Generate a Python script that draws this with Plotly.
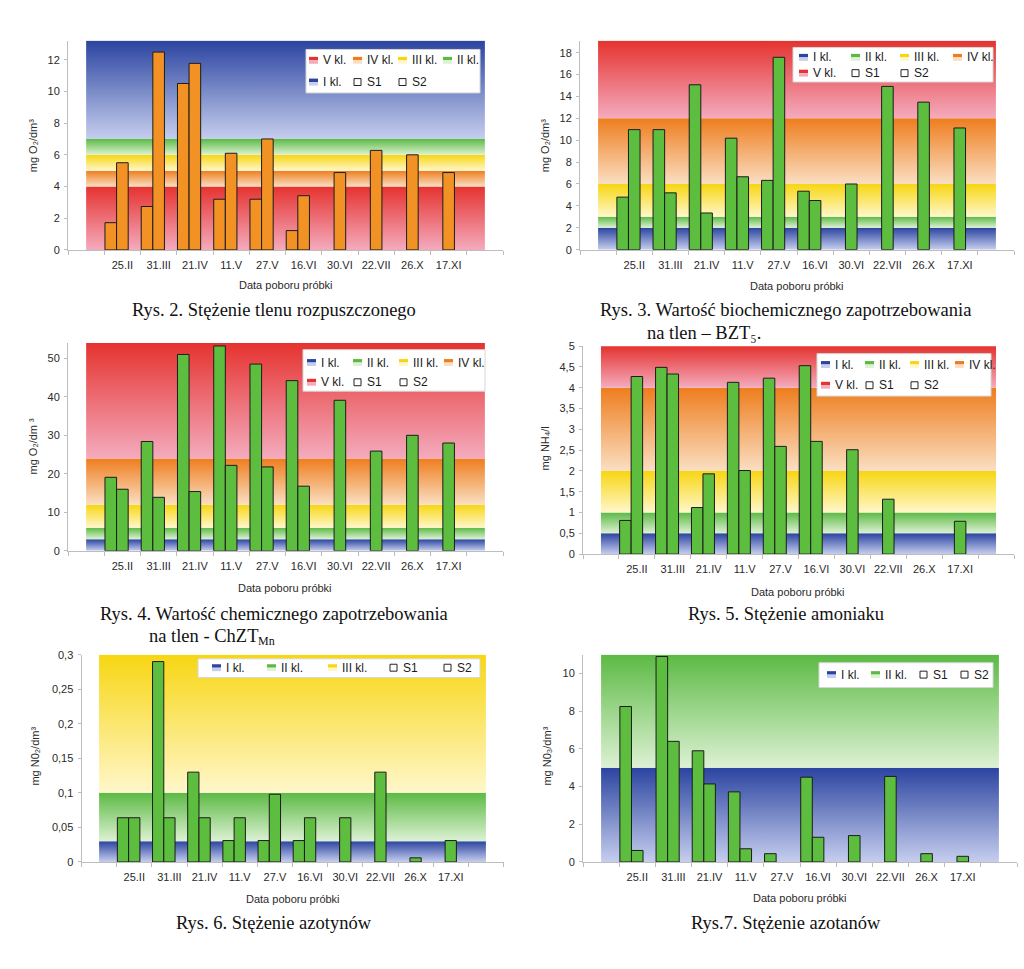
import plotly.graph_objects as go

# ---------------- data ----------------
dates = ['25.II', '31.III', '21.IV', '11.V', '27.V', '16.VI', '30.VI', '22.VII', '26.X', '17.XI']

# Rys. 2 - dissolved oxygen
o2_s1 = [1.72, 2.74, 10.5, 3.2, 3.2, 1.22, None, None, None, None]
o2_s2 = [5.5, 12.48, 11.77, 6.1, 7.0, 3.42, 4.88, 6.28, 6.0, 4.88]
o2_classes = ['V kl.', 'IV kl.', 'III kl.', 'II kl.', 'I kl.']
o2_limits = [0, 4, 5, 6, 7, 13.2]

# Rys. 3 - BZT5
bzt_s1 = [4.8, 10.97, 15.07, 10.19, 6.33, 5.34, None, None, None, None]
bzt_s2 = [10.97, 5.19, 3.35, 6.66, 17.58, 4.49, 6.0, 14.92, 13.48, 11.12]
bzt_classes = ['I kl.', 'II kl.', 'III kl.', 'IV kl.', 'V kl.']
bzt_limits = [0, 2, 3, 6, 12, 19.1]

# Rys. 4 - ChZT Mn
chzt_s1 = [19.1, 28.4, 51.0, 53.2, 48.5, 44.2, None, None, None, None]
chzt_s2 = [16.0, 13.9, 15.4, 22.2, 21.8, 16.8, 39.1, 25.9, 30.0, 28.0]
chzt_classes = ['I kl.', 'II kl.', 'III kl.', 'IV kl.', 'V kl.']
chzt_limits = [0, 3, 6, 12, 24, 54]

# Rys. 5 - ammonia
nh4_s1 = [0.81, 4.49, 1.12, 4.13, 4.23, 4.53, None, None, None, None]
nh4_s2 = [4.27, 4.33, 1.93, 2.01, 2.59, 2.71, 2.51, 1.32, None, 0.79]
nh4_classes = ['I kl.', 'II kl.', 'III kl.', 'IV kl.', 'V kl.']
nh4_limits = [0, 0.5, 1, 2, 4, 5]

# Rys. 6 - nitrites
no2_s1 = [0.064, 0.29, 0.13, 0.031, 0.031, 0.031, None, None, None, None]
no2_s2 = [0.064, 0.064, 0.064, 0.064, 0.098, 0.064, 0.064, 0.13, 0.006, 0.031]
no2_classes = ['I kl.', 'II kl.', 'III kl.']
no2_limits = [0, 0.03, 0.1, 0.3]

# Rys. 7 - nitrates
no3_s1 = [8.25, 10.9, 5.9, 3.72, 0.44, 4.5, None, None, None, None]
no3_s2 = [0.61, 6.4, 4.14, 0.70, None, 1.31, 1.40, 4.54, 0.44, 0.30]
no3_classes = ['I kl.', 'II kl.']
no3_limits = [0, 5, 11]

series_names = ['S1', 'S2']

# ---------------- styles ----------------
W, H = 1024, 969
SANS = 'Liberation Sans, Arial, sans-serif'
SERIF = 'Liberation Serif, Times New Roman, serif'
AXIS_GRAY = '#BDBDBD'
TEXT = '#2a2a2a'
CLASS_COLORS = {  # (top colour, bottom colour)
    'I kl.': ('#2B44A0', '#C6CEEE'),
    'II kl.': ('#5CBA44', '#DDF1D4'),
    'III kl.': ('#F7D612', '#FFF7CB'),
    'IV kl.': ('#EE7D1E', '#FADFC2'),
    'V kl.': ('#E5332F', '#F4ABBE'),
}
ORANGE_BAR = '#F29225'
GREEN_BAR = '#5DBD3E'
BAR_W = 0.32
CAP_SIZE = 18.5


def px(x):
    return x / W


def py(y):
    return 1 - y / H


# caption items: (text, x, y, anchor, font size)
panels = [
    dict(s1=o2_s1, s2=o2_s2, classes=o2_classes, limits=o2_limits, dtick=2, bar=ORANGE_BAR,
         dom=(68, 503, 247, 35), ytitle='mg O₂/dm³', ytpos=(33, 141),
         xtpos=(286, 283), caption=[('Rys. 2. Stężenie tlenu rozpuszczonego', 274, 308, 'center', CAP_SIZE)],
         leg=dict(box=(306, 44, 480, 88), cols=[309, 353, 398, 443], rows=[55, 77],
                  items=['V kl.', 'IV kl.', 'III kl.', 'II kl.', 'I kl.', 'S1', 'S2'])),
    dict(s1=bzt_s1, s2=bzt_s2, classes=bzt_classes, limits=bzt_limits, dtick=2, bar=GREEN_BAR,
         dom=(580, 1014, 246.7, 35), ytitle='mg O₂/dm³', ytpos=(545, 141),
         xtpos=(797, 284),
         caption=[('Rys. 3. Wartość biochemicznego zapotrzebowania', 785, 308, 'center', CAP_SIZE),
                  ('na tlen – BZT₅.', 645, 331, 'left', CAP_SIZE)],
         leg=dict(box=(793, 42, 993, 77), cols=[799, 851, 900, 953], rows=[52, 68],
                  items=['I kl.', 'II kl.', 'III kl.', 'IV kl.', 'V kl.', 'S1', 'S2'])),
    dict(s1=chzt_s1, s2=chzt_s2, classes=chzt_classes, limits=chzt_limits, dtick=10, bar=GREEN_BAR,
         dom=(68, 503, 551.7, 341), ytitle='mg O₂/dm ³', ytpos=(33, 446),
         xtpos=(285, 589),
         caption=[('Rys. 4. Wartość chemicznego zapotrzebowania', 274, 616, 'center', CAP_SIZE),
                  ('na tlen - ChZT', 147, 638, 'left', CAP_SIZE),
                  ('Mn', 256, 643, 'left', 12)],
         leg=dict(box=(303, 348, 485, 390), cols=[307, 353, 399, 444], rows=[361, 381],
                  items=['I kl.', 'II kl.', 'III kl.', 'IV kl.', 'V kl.', 'S1', 'S2'])),
    dict(s1=nh4_s1, s2=nh4_s2, classes=nh4_classes, limits=nh4_limits, dtick=0.5, bar=GREEN_BAR,
         dom=(583, 1014, 555, 344.3), ytitle='mg NH₄/l', ytpos=(545, 448),
         xtpos=(798, 593), caption=[('Rys. 5. Stężenie amoniaku', 786, 616, 'center', CAP_SIZE)],
         leg=dict(box=(817, 352, 991, 395), cols=[821, 865, 910, 955], rows=[363, 384],
                  items=['I kl.', 'II kl.', 'III kl.', 'IV kl.', 'V kl.', 'S1', 'S2'])),
    dict(s1=no2_s1, s2=no2_s2, classes=no2_classes, limits=no2_limits, dtick=0.05, bar=GREEN_BAR,
         dom=(81.5, 503.5, 866.7, 656.7), ytitle='mg N0₂/dm³', ytpos=(35, 760),
         xtpos=(293, 904), caption=[('Rys. 6. Stężenie azotynów', 274, 928, 'center', CAP_SIZE)],
         leg=dict(box=(198, 661, 480, 680), cols=[212, 267, 328, 389, 443], rows=[670],
                  items=['I kl.', 'II kl.', 'III kl.', 'S1', 'S2'])),
    dict(s1=no3_s1, s2=no3_s2, classes=no3_classes, limits=no3_limits, dtick=2, bar=GREEN_BAR,
         dom=(583, 1017, 866.7, 656.7), ytitle='mg N0₃/dm³', ytpos=(547, 760),
         xtpos=(800, 903), caption=[('Rys.7. Stężenie azotanów', 786, 928, 'center', CAP_SIZE)],
         leg=dict(box=(819, 665, 993, 690), cols=[827, 871, 919, 960], rows=[677],
                  items=['I kl.', 'II kl.', 'S1', 'S2'])),
]

fig = go.Figure()
layout = {}
shapes = []
annotations = []
n = len(dates)
xpos = list(range(1, n + 1))
x_lo, x_hi = 0, n + 1
NP = len(panels)

for i, p in enumerate(panels):
    xa = 'x' if i == 0 else f'x{i + 1}'
    ya = 'y' if i == 0 else f'y{i + 1}'
    yb_id = f'y{i + 1 + NP}'          # overlay axis for the bars (drawn above bands)
    # class bands (gradient filled areas)
    for cls, lo, hi in zip(p['classes'], p['limits'][:-1], p['limits'][1:]):
        top, bot = CLASS_COLORS[cls]
        fig.add_trace(go.Scatter(
            x=[x_lo, x_hi, x_hi, x_lo, x_lo], y=[lo, lo, hi, hi, lo],
            mode='lines', line=dict(width=0), fill='toself', fillcolor=top,
            fillgradient=dict(type='vertical', colorscale=[[0, bot], [1, top]]),
            hoverinfo='skip', showlegend=False, name=cls, xaxis=xa, yaxis=ya))
    # bars
    for name, vals, off in ((series_names[0], p['s1'], -1.5 * BAR_W), (series_names[1], p['s2'], -0.5 * BAR_W)):
        fig.add_trace(go.Bar(
            x=xpos, y=vals, width=BAR_W, offset=off, name=name,
            marker=dict(color=p['bar'], line=dict(color='#1c1c1c', width=1)),
            showlegend=False, xaxis=xa, yaxis=yb_id))

    x0, x1, yb, yt = p['dom']
    top_val = p['limits'][-1]
    yrange = [0, top_val * 1.0005]
    layout['xaxis' if i == 0 else f'xaxis{i + 1}'] = dict(
        domain=[px(x0), px(x1)], anchor=ya, range=[-0.5, n + 1.5],
        tickmode='array', tickvals=xpos, ticktext=dates, ticks='',
        showline=True, linecolor=AXIS_GRAY, linewidth=1, showgrid=False, zeroline=False,
        tickfont=dict(family=SANS, size=11, color=TEXT), ticklabelstandoff=5,
        minor=dict(tickmode='array', tickvals=[k - 0.5 for k in range(n + 3)], ticks='outside',
                   ticklen=4, tickcolor=AXIS_GRAY, tickwidth=1, showgrid=False),
        fixedrange=True)
    layout['yaxis' if i == 0 else f'yaxis{i + 1}'] = dict(
        domain=[py(yb), py(yt)], anchor=xa, range=yrange,
        tickmode='linear', tick0=0, dtick=p['dtick'], ticks='outside', ticklen=3,
        tickcolor=AXIS_GRAY, showline=True, linecolor=AXIS_GRAY, linewidth=1,
        showgrid=False, zeroline=False, ticklabelstandoff=2,
        tickfont=dict(family=SANS, size=11, color=TEXT), fixedrange=True)
    layout[f'yaxis{i + 1 + NP}'] = dict(
        overlaying=ya, anchor=xa, range=yrange, visible=False, showgrid=False,
        zeroline=False, fixedrange=True)

    # axis titles
    annotations.append(dict(text=p['ytitle'], x=px(p['ytpos'][0]), y=py(p['ytpos'][1]),
                            xref='paper', yref='paper', textangle=-90, showarrow=False,
                            xanchor='center', yanchor='middle',
                            font=dict(family=SANS, size=11, color=TEXT)))
    annotations.append(dict(text='Data poboru próbki', x=px(p['xtpos'][0]), y=py(p['xtpos'][1]),
                            xref='paper', yref='paper', showarrow=False,
                            xanchor='center', yanchor='middle',
                            font=dict(family=SANS, size=11, color=TEXT)))
    for text, cx, cy, anch, fs in p['caption']:
        annotations.append(dict(text=text, x=px(cx), y=py(cy), xref='paper', yref='paper',
                                showarrow=False, xanchor=anch, yanchor='middle',
                                font=dict(family=SERIF, size=fs, color='#111111')))

    # legend (drawn as shapes + text)
    lg = p['leg']
    bx0, by0, bx1, by1 = lg['box']
    shapes.append(dict(type='rect', xref='paper', yref='paper', x0=px(bx0), x1=px(bx1),
                       y0=py(by1), y1=py(by0), fillcolor='white',
                       line=dict(color='#D6D6D6', width=1)))
    ncol = len(lg['cols'])
    for k, item in enumerate(lg['items']):
        cx = lg['cols'][k % ncol]
        cy = lg['rows'][k // ncol]
        if item in CLASS_COLORS:
            top, bot = CLASS_COLORS[item]
            shapes.append(dict(type='rect', xref='paper', yref='paper', x0=px(cx), x1=px(cx + 9),
                               y0=py(cy), y1=py(cy - 3.5), fillcolor=top, line=dict(width=0)))
            shapes.append(dict(type='rect', xref='paper', yref='paper', x0=px(cx), x1=px(cx + 9),
                               y0=py(cy + 3.5), y1=py(cy), fillcolor=bot, line=dict(width=0)))
        else:
            shapes.append(dict(type='rect', xref='paper', yref='paper', x0=px(cx + 1), x1=px(cx + 8),
                               y0=py(cy + 3.5), y1=py(cy - 3.5), fillcolor='white',
                               line=dict(color='#222222', width=1)))
        annotations.append(dict(text=item, x=px(cx + 12), y=py(cy), xref='paper', yref='paper',
                                showarrow=False, xanchor='left', yanchor='middle',
                                font=dict(family=SANS, size=12, color='#1a1a1a')))

fig.update_layout(
    width=W, height=H, margin=dict(l=0, r=0, t=0, b=0),
    paper_bgcolor='white', plot_bgcolor='rgba(0,0,0,0)',
    barmode='overlay', separators=', ', showlegend=False,
    shapes=shapes, annotations=annotations, **layout)

fig.write_html('out.html', config={'displayModeBar': False},
               post_script="document.body.style.margin='0';")
